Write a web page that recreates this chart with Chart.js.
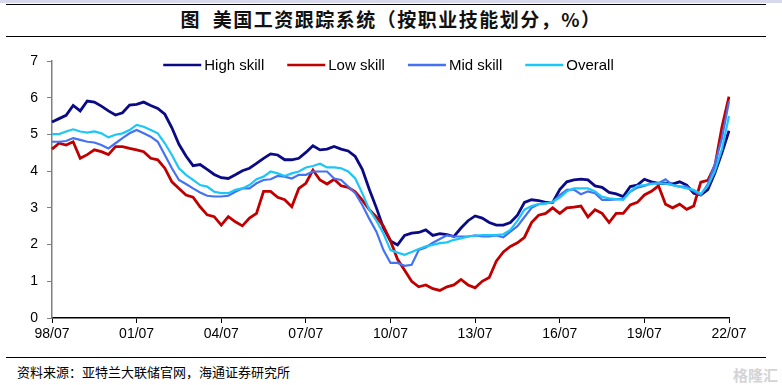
<!DOCTYPE html>
<html>
<head>
<meta charset="utf-8">
<script src="https://cdn.jsdelivr.net/npm/chart.js@4"></script>
<style>
  html, body { margin: 0; padding: 0; background: #fff; }
  #page { position: relative; width: 782px; height: 385px; overflow: hidden; background: #fff; }
  #band { position: absolute; left: 0; top: 0; width: 782px; height: 3px; background: #d9d9ee; }
  .rule { position: absolute; left: 6px; width: 760px; height: 1px; background: #000; }
  #title {
    position: absolute; left: 0; top: 6px; width: 782px; text-align: center;
    font-family: "Noto Sans CJK SC", sans-serif; font-size: 19px; font-weight: bold;
    color: #111; line-height: 26px; letter-spacing: 1.5px;
  }
  #source {
    position: absolute; left: 17px; top: 363px;
    font-family: "Noto Sans CJK SC", sans-serif; font-size: 13px; color: #000; line-height: 18px;
  }
  #mark {
    position: absolute; right: 4px; top: 364px;
    font-family: "Noto Sans CJK SC", sans-serif; font-size: 15px; color: #d4d4d4; font-weight: bold;
  }
  #wrap { position: absolute; left: 0; top: 40px; width: 782px; height: 315px; }
</style>
</head>
<body>
<div id="page">
  <div id="band"></div>
  <div class="rule" style="top:4px"></div>
  <div id="title">图&nbsp;&nbsp;美国工资跟踪系统（按职业技能划分，%）</div>
  <div class="rule" style="top:36px"></div>
  <div id="wrap"><canvas id="wageChart"></canvas></div>
  <div class="rule" style="top:357px"></div>
  <div id="source">资料来源：亚特兰大联储官网，海通证券研究所</div>
  <div id="mark">格隆汇</div>
</div>
<script>
"use strict";

/* ================================
   DATA (quarterly, 98/07 .. 22/07)
   ================================ */
const START_YEAR = 1998;
const START_MONTH = 7;
const tickLabels = ["98/07", "01/07", "04/07", "07/07", "10/07", "13/07", "16/07", "19/07", "22/07"];

const seriesNames = ["High skill", "Low skill", "Mid skill", "Overall"];
const seriesColors = ["#0a0a84", "#c00000", "#4472f2", "#1cc6f7"];

const highSkill = [
  5.34, 5.43, 5.52, 5.79, 5.64, 5.91, 5.88, 5.77, 5.64, 5.53, 5.59, 5.80, 5.82, 5.88, 5.79, 5.71, 5.55, 5.18, 4.73, 4.41, 4.15, 4.18, 4.05, 3.91, 3.82,
  3.80, 3.90, 4.01, 4.08, 4.21, 4.35, 4.47, 4.44, 4.31, 4.31, 4.35, 4.51, 4.69, 4.58, 4.60, 4.67, 4.60, 4.55, 4.40, 4.05, 3.50, 3.00, 2.45,
  2.10, 1.99, 2.25, 2.31, 2.33, 2.40, 2.25, 2.30, 2.27, 2.22, 2.45, 2.65, 2.78, 2.72, 2.60, 2.53, 2.53, 2.60, 2.80, 3.15, 3.22, 3.20, 3.15, 3.15, 3.50,
  3.71, 3.76, 3.78, 3.76, 3.60, 3.56, 3.42, 3.38, 3.31, 3.58, 3.62, 3.78, 3.71, 3.67, 3.67, 3.65, 3.71, 3.62, 3.40, 3.35, 3.50, 3.95, 4.50, 5.10
];
const lowSkill = [
  4.60, 4.76, 4.71, 4.80, 4.35, 4.45, 4.58, 4.53, 4.45, 4.67, 4.67, 4.62, 4.58, 4.53, 4.35, 4.31, 4.08, 3.71, 3.53, 3.35, 3.29, 3.03, 2.81, 2.76, 2.53,
  2.76, 2.62, 2.51, 2.72, 2.85, 3.45, 3.45, 3.29, 3.22, 3.03, 3.53, 3.67, 4.03, 3.76, 3.65, 3.78, 3.60, 3.56, 3.44, 3.21, 2.95, 2.75, 2.50,
  2.10, 1.60, 1.30, 1.00, 0.85, 0.90, 0.80, 0.75, 0.85, 0.90, 1.05, 0.90, 0.82, 1.00, 1.10, 1.55, 1.80, 1.95, 2.05, 2.20, 2.60, 2.80, 2.85, 3.00, 2.85,
  3.00, 3.02, 3.05, 2.75, 2.95, 2.85, 2.60, 2.85, 2.85, 3.08, 3.15, 3.35, 3.45, 3.60, 3.10, 3.00, 3.10, 2.96, 3.05, 3.70, 3.75, 4.15, 5.20, 6.03
];
const midSkill = [
  4.80, 4.80, 4.82, 4.90, 4.85, 4.80, 4.78, 4.71, 4.62, 4.76, 4.90, 5.03, 5.12, 5.03, 4.94, 4.80, 4.44, 4.08, 3.76, 3.65, 3.53, 3.42, 3.33, 3.31, 3.31,
  3.33, 3.44, 3.53, 3.53, 3.67, 3.76, 3.78, 3.87, 3.85, 3.80, 3.90, 3.90, 3.99, 3.99, 3.99, 3.80, 3.76, 3.58, 3.40, 3.08, 2.70, 2.35, 1.85,
  1.50, 1.50, 1.42, 1.45, 1.85, 1.92, 2.05, 2.15, 2.25, 2.22, 2.22, 2.22, 2.25, 2.22, 2.22, 2.25, 2.20, 2.35, 2.50, 2.75, 3.00, 3.10, 3.12, 3.15, 3.35,
  3.49, 3.50, 3.37, 3.45, 3.40, 3.22, 3.22, 3.23, 3.25, 3.44, 3.55, 3.60, 3.67, 3.67, 3.78, 3.62, 3.58, 3.58, 3.45, 3.35, 3.65, 4.20, 4.90, 5.90
];
const overall = [
  5.01, 5.01, 5.08, 5.14, 5.08, 5.05, 5.08, 5.03, 4.92, 4.99, 5.03, 5.12, 5.26, 5.21, 5.12, 5.03, 4.76, 4.44, 4.08, 3.90, 3.76, 3.62, 3.58, 3.44, 3.40,
  3.40, 3.49, 3.53, 3.62, 3.78, 3.85, 3.99, 3.94, 3.87, 3.94, 3.99, 4.10, 4.14, 4.20, 4.10, 4.10, 4.08, 3.99, 3.80, 3.40, 2.95, 2.65, 2.30,
  1.85, 1.78, 1.72, 1.80, 1.88, 1.95, 1.99, 2.04, 2.06, 2.13, 2.17, 2.22, 2.24, 2.26, 2.26, 2.26, 2.28, 2.40, 2.65, 2.95, 3.05, 3.10, 3.12, 3.17, 3.28,
  3.45, 3.53, 3.53, 3.53, 3.45, 3.30, 3.26, 3.24, 3.22, 3.45, 3.60, 3.62, 3.65, 3.67, 3.66, 3.62, 3.58, 3.53, 3.49, 3.38, 3.60, 4.00, 4.60, 5.50
];

/* ================================
   HELPERS
   ================================ */
function quarterLabels(n) {
  const out = [];
  for (let i = 0; i < n; i++) {
    const m = START_MONTH - 1 + i * 3;
    const yy = (START_YEAR + Math.floor(m / 12)) % 100;
    const mm = (m % 12) + 1;
    out.push(String(yy).padStart(2, "0") + "/" + String(mm).padStart(2, "0"));
  }
  return out;
}

const AXIS_FONT = { family: "'Liberation Sans', Arial, sans-serif", size: 14 };

// legend drawn inside the plot, centred at the top
const lineLegend = {
  id: "lineLegend",
  afterDraw(chart) {
    const ctx = chart.ctx;
    const area = chart.chartArea;
    const sets = chart.data.datasets;
    const LINE = 38, GAP = 3, SPACE = 23;

    ctx.save();
    ctx.font = "15px 'Liberation Sans', Arial, sans-serif";
    ctx.textBaseline = "middle";
    const widths = sets.map(ds => LINE + GAP + ctx.measureText(ds.label).width);
    const total = widths.reduce((a, b) => a + b, 0) + SPACE * (sets.length - 1);
    let x = (area.left + area.right) / 2 - total / 2 - 2;
    const y = area.top + 4;

    sets.forEach((ds, i) => {
      ctx.strokeStyle = ds.borderColor;
      ctx.lineWidth = 2.5;
      ctx.beginPath();
      ctx.moveTo(x, y);
      ctx.lineTo(x + LINE, y);
      ctx.stroke();
      ctx.fillStyle = "#000";
      ctx.fillText(ds.label, x + LINE + GAP, y + 1);
      x += widths[i] + SPACE;
    });
    ctx.restore();
  }
};

/* ================================
   CHART
   ================================ */
const values = [highSkill, lowSkill, midSkill, overall];
const widthsPx = [2.8, 2.8, 2.2, 2.2];

const datasets = seriesNames.map((name, i) => ({
  label: name,
  data: values[i],
  borderColor: seriesColors[i],
  backgroundColor: seriesColors[i],
  borderWidth: widthsPx[i],
  pointRadius: 0,
  tension: 0,
  fill: false,
  order: seriesNames.length - i
}));

new Chart(document.getElementById("wageChart").getContext("2d"), {
  type: "line",
  data: { labels: quarterLabels(highSkill.length), datasets },
  options: {
    responsive: true,
    maintainAspectRatio: false,
    animation: false,
    layout: { padding: { top: 21, right: 53, bottom: 0, left: 0 } },
    plugins: { legend: { display: false }, tooltip: { enabled: false } },
    scales: {
      x: {
        type: "category",
        offset: false,
        afterFit(scale) { scale.height = 37; },
        border: { color: "#000", width: 1.5 },
        grid: { drawOnChartArea: false, tickLength: 5, color: "#000" },
        ticks: {
          autoSkip: false,
          maxRotation: 0,
          padding: 3,
          color: "#000",
          font: AXIS_FONT,
          callback(value) {
            const lab = this.getLabelForValue(value);
            return tickLabels.includes(lab) ? lab : null;
          }
        }
      },
      y: {
        min: 0,
        max: 7,
        afterFit(scale) { scale.width = 52; },
        border: { color: "#7f7f7f", width: 1.5 },
        grid: { drawOnChartArea: false, tickLength: 5, color: "#7f7f7f" },
        ticks: { stepSize: 1, padding: 9, color: "#000", font: AXIS_FONT }
      }
    }
  },
  plugins: [lineLegend]
});
</script>
</body>
</html>
